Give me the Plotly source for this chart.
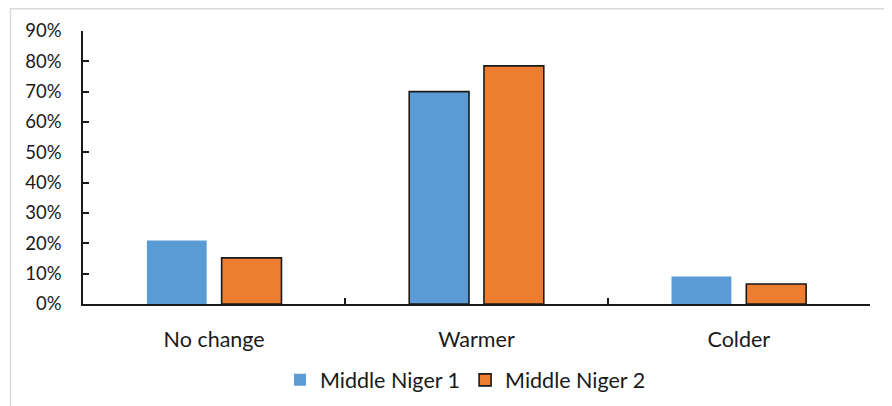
import plotly.graph_objects as go

categories = ["No change", "Warmer", "Colder"]
series_names = ["Middle Niger 1", "Middle Niger 2"]
niger1 = [0.209, 0.70, 0.091]
niger2 = [0.152, 0.785, 0.066]
y_ticks = [0, 0.1, 0.2, 0.3, 0.4, 0.5, 0.6, 0.7, 0.8, 0.9]

FONT = "Lato"
# page body has an 8px default margin
W, H = 884, 398
L, R, T, B = 75, 22, 23, 102

fig = go.Figure()
fig.add_trace(go.Bar(
    x=categories, y=niger1, name=series_names[0],
    marker=dict(color="#5B9BD5", line=dict(color="#1a1a1a", width=[0, 1.6, 0])),
))
fig.add_trace(go.Bar(
    x=categories, y=niger2, name=series_names[1],
    marker=dict(color="#ED7D31", line=dict(color="#1a1a1a", width=1.6)),
))

pw = W - L - R
ph = H - T - B
fig.add_shape(type="rect", xref="paper", yref="paper",
              x0=(2.5 - L) / pw, x1=(W + 5 - L) / pw,
              y0=(-8 - B) / ph, y1=(H - 0.8 - B) / ph,
              line=dict(color="#d9d9d9", width=1.5), fillcolor="rgba(0,0,0,0)", layer="below")

fig.update_layout(
    width=W, height=H,
    margin=dict(l=L, r=R, t=T, b=B, autoexpand=False),
    paper_bgcolor="white", plot_bgcolor="white",
    barmode="group", bargap=0.43, bargroupgap=0.2,
    font=dict(family=FONT, color="#1a1a1a"),
    showlegend=True,
    legend=dict(orientation="h", x=0.486, xanchor="center", y=-0.278, yanchor="middle",
                font=dict(size=21.5, family=FONT), itemwidth=30, traceorder="normal",
                bgcolor="rgba(0,0,0,0)"),
    xaxis=dict(showline=True, linecolor="#1a1a1a", linewidth=1.5,
               ticks="inside", tickson="boundaries", ticklen=6, tickcolor="#1a1a1a", tickwidth=1.5,
               tickfont=dict(size=21.5, family=FONT), ticklabelstandoff=15, showgrid=False),
    yaxis=dict(range=[0, 0.9], tickvals=y_ticks, tickformat=".0%", showline=True,
               linecolor="#1a1a1a", linewidth=1.5, ticks="inside", ticklen=6,
               tickcolor="#1a1a1a", tickwidth=1.5, showgrid=False, zeroline=False,
               tickfont=dict(size=18.5, family=FONT), ticklabelstandoff=16),
)

fig.write_html("out.html")
